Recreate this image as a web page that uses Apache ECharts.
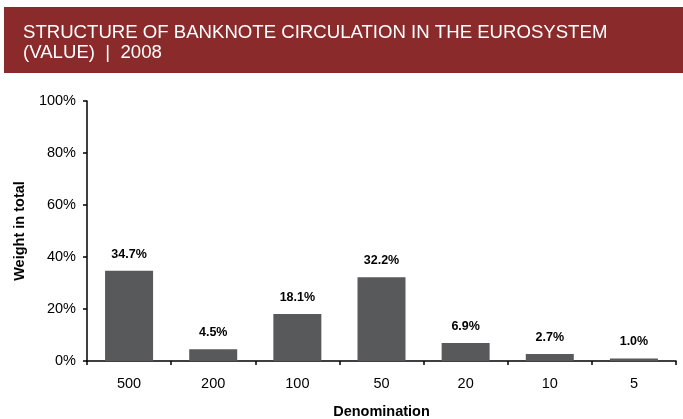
<!DOCTYPE html>
<html>
<head>
<meta charset="utf-8">
<script src="https://cdn.jsdelivr.net/npm/echarts@6/dist/echarts.min.js"></script>
<style>
  html, body { margin: 0; padding: 0; background: #ffffff; }
  #chart { width: 683px; height: 419px; }
</style>
</head>
<body>
<div id="chart"></div>
<script>
// Banknote denominations (EUR) and their share of total circulation value, 2008
const denominations = ['500', '200', '100', '50', '20', '10', '5'];
const shares = [34.7, 4.5, 18.1, 32.2, 6.9, 2.7, 1.0];
const yTicks = [0, 20, 40, 60, 80, 100];

const chart = echarts.init(document.getElementById('chart'), null, { renderer: 'canvas' });
const font = '"Liberation Sans", Arial, sans-serif';

chart.setOption({
  animation: false,
  backgroundColor: '#ffffff',
  graphic: [
    {
      type: 'rect',
      shape: { x: 4, y: 7, width: 679, height: 66 },
      style: { fill: '#8a2a2b' },
      silent: true
    }
  ],
  title: {
    text: 'STRUCTURE OF BANKNOTE CIRCULATION IN THE EUROSYSTEM\n(VALUE)  |  2008',
    left: 18,
    top: 18,
    textStyle: {
      color: '#ffffff',
      fontFamily: font,
      fontSize: 18.6,
      fontWeight: 'normal',
      lineHeight: 20
    }
  },
  grid: { left: 87, top: 101, right: 7, bottom: 58, outerBoundsMode: 'none' },
  xAxis: {
    type: 'category',
    data: denominations,
    name: 'Denomination',
    nameLocation: 'middle',
    nameGap: 43,
    nameTextStyle: { fontFamily: font, fontSize: 14.5, fontWeight: 'bold', color: '#000' },
    axisLine: { lineStyle: { color: '#000', width: 1.5 } },
    axisTick: { show: true, length: 4, inside: false, lineStyle: { color: '#000', width: 1.5 } },
    axisLabel: { fontFamily: font, fontSize: 14.5, color: '#000', margin: 15 },
    splitLine: { show: false }
  },
  yAxis: {
    type: 'value',
    min: yTicks[0],
    max: yTicks[yTicks.length - 1],
    interval: 20,
    name: 'Weight in total',
    nameLocation: 'middle',
    nameGap: 60,
    nameTextStyle: { fontFamily: font, fontSize: 14.5, fontWeight: 'bold', color: '#000' },
    axisLine: { show: true, lineStyle: { color: '#000', width: 1.5 } },
    axisTick: { show: true, length: 4, lineStyle: { color: '#000', width: 1.5 } },
    axisLabel: { fontFamily: font, fontSize: 14.5, color: '#000', margin: 11, formatter: v => v + '%' },
    splitLine: { show: false }
  },
  series: [
    {
      type: 'bar',
      data: shares,
      barWidth: 48,
      itemStyle: { color: '#58595b' },
      label: {
        show: true,
        position: 'top',
        distance: 10,
        fontFamily: font,
        fontSize: 12.5,
        fontWeight: 'bold',
        color: '#000',
        formatter: p => p.value.toFixed(1) + '%'
      }
    }
  ]
});
</script>
</body>
</html>
